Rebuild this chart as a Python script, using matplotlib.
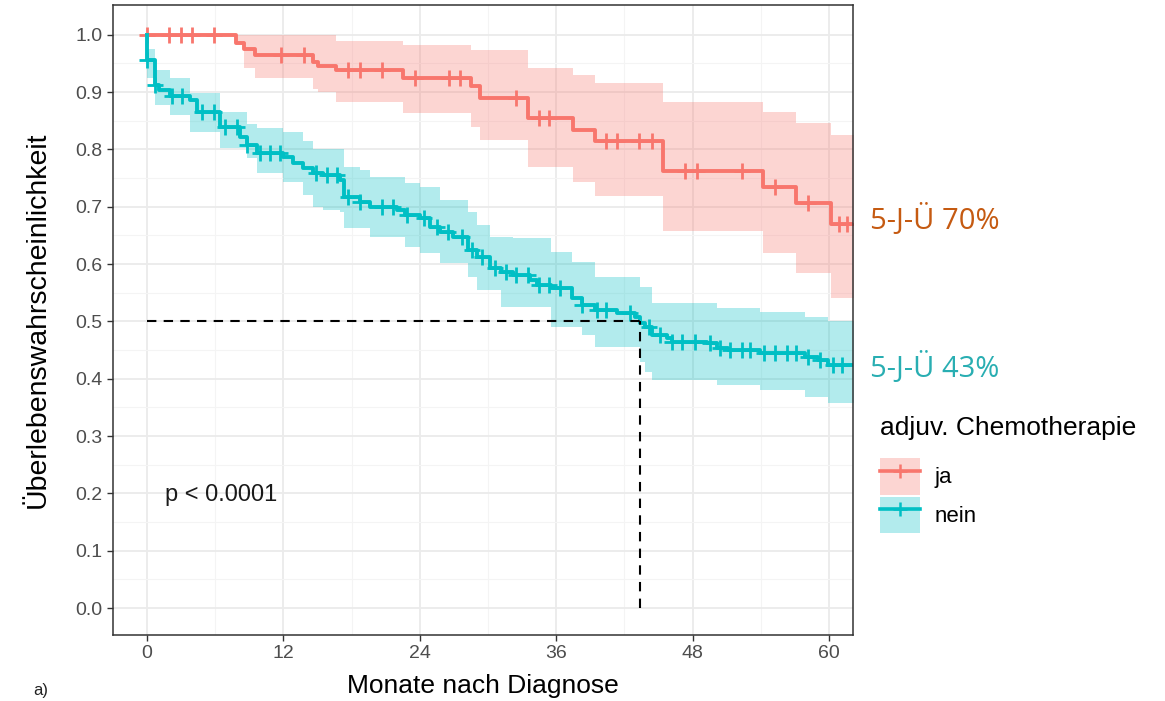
import numpy as np
import matplotlib
matplotlib.use("Agg")
from matplotlib import pyplot as plt
from matplotlib.patches import Patch
from matplotlib.lines import Line2D
from matplotlib.legend_handler import HandlerTuple

plt.rcParams['font.family'] = ['Liberation Sans', 'DejaVu Sans']

# --- data (months, survival, 95% CI) ---
red_time = [0, 7.8, 8.5, 9.5, 14.6, 15.0, 16.6, 22.5, 28.5, 29.3, 33.5, 37.5,
            39.4, 45.4, 54.2, 57.1, 60.2]
red_surv = [1.0, 0.985, 0.975, 0.965, 0.953, 0.946, 0.938, 0.924, 0.910, 0.890,
            0.855, 0.834, 0.814, 0.763, 0.734, 0.706, 0.670]
red_upper = [1.0, 1.0, 1.0, 1.0, 1.0, 1.0, 0.99, 0.983, 0.974, 0.974, 0.942,
             0.930, 0.916, 0.883, 0.866, 0.846, 0.825]
red_lower = [1.0, 0.982, 0.942, 0.925, 0.905, 0.90, 0.883, 0.864, 0.84, 0.817,
             0.77, 0.744, 0.718, 0.657, 0.62, 0.585, 0.541]
red_censor = [0, 1.9, 3.0, 4.0, 5.9, 11.8, 13.8, 17.7, 18.7, 20.7, 23.6, 26.6,
              27.5, 32.5, 34.5, 35.4, 40.4, 41.3, 43.3, 44.4, 47.3, 48.4, 52.3,
              55.2, 58.1, 60.9, 61.6]

blue_time = [0, 0, 0.7, 1.1, 2.0, 3.8, 4.4, 6.4, 8.2, 8.8, 9.7, 12.0, 12.8,
             13.7, 14.6, 15.5, 17.0, 17.3, 18.7, 19.6, 22.0, 22.7, 24.0, 24.9,
             25.8, 26.9, 28.2, 29.0, 30.2, 31.1, 32.2, 33.7, 34.3, 35.5, 37.4,
             38.3, 39.4, 41.3, 42.9, 43.4, 43.8, 44.4, 45.7, 46.2, 49.3, 50.1,
             51.1, 53.9, 57.9, 59.0, 59.9]
blue_surv = [1.0, 0.956, 0.913, 0.904, 0.893, 0.887, 0.866, 0.840, 0.822, 0.808,
             0.794, 0.787, 0.776, 0.768, 0.759, 0.755, 0.747, 0.717, 0.709, 0.700,
             0.695, 0.686, 0.680, 0.665, 0.656, 0.648, 0.625, 0.613, 0.593, 0.586,
             0.581, 0.572, 0.564, 0.558, 0.541, 0.529, 0.520, 0.515, 0.508, 0.497,
             0.490, 0.476, 0.471, 0.464, 0.462, 0.454, 0.450, 0.445, 0.438, 0.433,
             0.424]
blue_upper = [1.0, 0.975, 0.939, 0.939, 0.925, 0.899, 0.899, 0.866, 0.866, 0.845,
              0.838, 0.83, 0.83, 0.815, 0.80, 0.80, 0.80, 0.77, 0.764, 0.752,
              0.752, 0.742, 0.735, 0.735, 0.712, 0.712, 0.691, 0.668, 0.648, 0.648,
              0.645, 0.645, 0.645, 0.621, 0.604, 0.604, 0.578, 0.578, 0.578, 0.56,
              0.56, 0.532, 0.532, 0.532, 0.532, 0.523, 0.523, 0.517, 0.508, 0.508,
              0.50]
blue_lower = [1.0, 0.925, 0.878, 0.878, 0.86, 0.83, 0.83, 0.802, 0.802, 0.785,
              0.759, 0.744, 0.744, 0.72, 0.70, 0.695, 0.691, 0.663, 0.663, 0.648,
              0.648, 0.63, 0.62, 0.62, 0.602, 0.602, 0.578, 0.555, 0.555, 0.525,
              0.525, 0.525, 0.525, 0.49, 0.49, 0.476, 0.456, 0.456, 0.456, 0.43,
              0.412, 0.398, 0.398, 0.398, 0.398, 0.389, 0.389, 0.38, 0.369, 0.369,
              0.358]
blue_censor = [0, 0.7, 2.2, 3.1, 4.8, 5.9, 6.9, 7.9, 8.8, 9.9, 10.8, 11.7, 14.9,
               15.8, 16.7, 17.7, 18.7, 20.7, 21.6, 22.9, 24.4, 25.5, 26.5, 27.7,
               28.6, 29.5, 30.6, 31.6, 32.5, 33.5, 34.5, 35.4, 36.3, 38.3, 39.6,
               40.4, 42.5, 44.2, 45.1, 46.2, 47.1, 48.2, 49.5, 50.4, 51.3, 52.3,
               53.0, 54.3, 55.2, 56.3, 57.1, 58.1, 59.2, 60.3, 61.1]

median_nein = 43.4
groups = ['ja', 'nein']
colors = {'ja': '#F8766D', 'nein': '#00BFC4'}
x_ticks = [0, 12, 24, 36, 48, 60]
y_ticks = [0.0, 0.1, 0.2, 0.3, 0.4, 0.5, 0.6, 0.7, 0.8, 0.9, 1.0]
label_70 = '5-J-Ü 70%'
label_43 = '5-J-Ü 43%'
t_end = 64


def draw_km(ax, t, s, lo, hi, cens, color):
    t = np.append(t, t_end)
    s = np.append(s, s[-1])
    lo = np.append(lo, lo[-1])
    hi = np.append(hi, hi[-1])
    ax.fill_between(t, lo, hi, step='post', color=color, alpha=0.3, lw=0)
    ax.step(t, s, where='post', color=color, lw=2.8)
    idx = np.searchsorted(t, cens, side='right') - 1
    ax.plot(cens, s[idx], ls='none', marker='+', ms=11, mew=2.0, color=color)


fig = plt.figure(figsize=(11.65, 7.01), dpi=100)
ax = fig.add_axes([113 / 1165, 66 / 701, 740 / 1165, 630 / 701])

draw_km(ax, red_time, red_surv, red_lower, red_upper, red_censor, colors['ja'])
draw_km(ax, blue_time, blue_surv, blue_lower, blue_upper, blue_censor, colors['nein'])

# median lines
ax.plot([0, median_nein], [0.5, 0.5], color='black', lw=1.5, dashes=(4.5, 3.5))
ax.plot([median_nein, median_nein], [0, 0.5], color='black', lw=1.5, dashes=(4.5, 3.5))

ax.text(1.6, 0.197, 'p < 0.0001', fontsize=17, va='center', ha='left', color='#1a1a1a')

ax.set_xlim(-2.99, 62.1)
ax.set_ylim(-0.047, 1.052)
ax.set_xticks(x_ticks)
ax.set_xticks(np.arange(6, 62, 12), minor=True)
ax.set_yticks(y_ticks)
ax.set_yticklabels([f'{v:.1f}' for v in y_ticks])
ax.set_yticks(np.arange(0.05, 1.05, 0.1), minor=True)
ax.grid(which='major', color='#EBEBEB', lw=1.3)
ax.grid(which='minor', color='#F4F4F4', lw=0.8)
ax.set_axisbelow(True)
ax.tick_params(which='major', length=4, width=1, color='#333333',
               labelcolor='#4D4D4D', labelsize=14)
ax.tick_params(which='minor', length=0)
for sp in ax.spines.values():
    sp.set_color('#333333')
    sp.set_linewidth(1.1)

ax.set_xlabel('Monate nach Diagnose', fontsize=19, labelpad=8)
ax.set_ylabel('Überlebenswahrscheinlichkeit', fontsize=20.5, labelpad=18)

# survival annotations
fig.text(870 / 1165, 1 - 220 / 701, label_70, fontsize=21, family='Open Sans',
         color='#C55A11', va='center', ha='left')
fig.text(870 / 1165, 1 - 368 / 701, label_43, fontsize=21, family='Open Sans',
         color='#29AEB2', va='center', ha='left')

# legend: title as its own text, keys below it
fig.text(880 / 1165, 1 - 428 / 701, 'adjuv. Chemotherapie', fontsize=19,
         va='center', ha='left', color='black')
handles = [(Patch(fc=colors[g], alpha=0.3, lw=0),
            Line2D([], [], color=colors[g], lw=2.6, marker='+', ms=10, mew=1.8))
           for g in groups]
leg = fig.legend(handles, groups,
                 handler_map={tuple: HandlerTuple(ndivide=1, pad=0)},
                 loc='upper left', bbox_to_anchor=(880 / 1165, 1 - 458 / 701),
                 frameon=False, fontsize=16, borderpad=0, borderaxespad=0,
                 handlelength=1.8, handleheight=2.15, labelspacing=0.1,
                 handletextpad=0.65)

fig.text(33 / 1165, 1 - 690 / 701, 'a)', fontsize=12, va='center', color='#222222')

fig.savefig('out.png', dpi=100, facecolor='white')
